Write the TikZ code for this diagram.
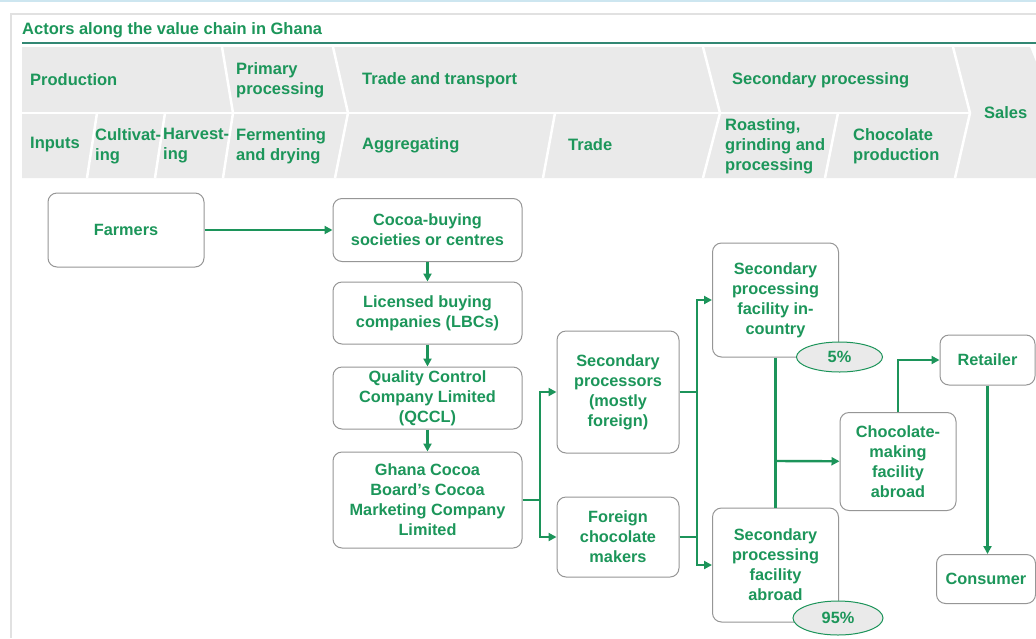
\documentclass[tikz,border=0pt]{standalone}
\usepackage{fontspec}
\setmainfont{Liberation Sans}
\usetikzlibrary{arrows.meta,shapes.geometric,positioning}
\definecolor{txg}{RGB}{28,150,90}
\definecolor{lng}{RGB}{28,148,90}
\definecolor{bxg}{RGB}{150,150,150}
\definecolor{bandg}{RGB}{234,234,234}
\definecolor{ttl}{RGB}{50,135,115}
\definecolor{frg}{RGB}{225,225,225}
\definecolor{skyb}{RGB}{205,230,240}
\newcommand{\bxfont}{\fontsize{16.3}{20}\selectfont\bfseries}
\newcommand{\hdfont}{\fontsize{16.5}{20}\selectfont\bfseries}

\begin{document}
\begin{tikzpicture}[x=1pt, y=-1pt, block/.style={rectangle, draw=bxg, line width=1pt, rounded corners=9pt, fill=white, align=center, text=txg, font=\bxfont, inner sep=2pt}, hdr/.style={anchor=west, align=left, text=txg, font=\hdfont, inner sep=0pt}, pct/.style={ellipse, draw=lng, line width=1pt, fill=bandg, text=txg, font=\bxfont, inner sep=0pt}, arr/.style={-{Triangle[length=8pt,width=8pt]}, draw=lng, line width=2.4pt}, ln/.style={draw=lng, line width=2.4pt}, sep/.style={draw=white, line width=2.5pt}]

    \useasboundingbox (0,0) rectangle (1036,638);
    \fill[white] (0,0) rectangle (1036,638);
    \draw[skyb, line width=1.5pt] (0,1) -- (1036,1);
    \draw[frg, line width=1.5pt] (11,638) -- (11,14) -- (1036,14);

    \node[anchor=west, inner sep=0pt, text=txg, font=\fontsize{16.5}{18}\selectfont\bfseries] (title) at (22,30) {Actors along the value chain in Ghana};
    \draw[ttl, line width=1.6pt] (22,43) -- (1036,43);

    \fill[bandg] (22,47) -- (1030,47) -- (1036,62) -- (1036,178) -- (22,178) -- cycle;
    \draw[sep] (22,113) -- (970,113);
    \draw[sep] (222,47) -- (233,113) -- (223,178);
    \draw[sep] (333,47) -- (348,113) -- (335,178);
    \draw[sep] (703,47) -- (720,113) -- (703,178);
    \draw[sep] (953,47) -- (970,113) -- (955,178);
    \draw[sep] (97,113) -- (87,178);
    \draw[sep] (165,113) -- (155,178);
    \draw[sep] (555,113) -- (543,178);
    \draw[sep] (838,113) -- (825,178);

    \node[hdr] (hprod) at (30,80) {Production};
    \node[hdr] (hprim) at (236,80) {Primary\\processing};
    \node[hdr] (htrade) at (362,80) {Trade and transport};
    \node[hdr] (hsec) at (732,80) {Secondary processing};
    \node[hdr] (hsales) at (984,113) {Sales};
    \node[hdr] (hinp) at (30,145) {Inputs};
    \node[hdr] (hcult) at (95,146) {Cultivat-\\ing};
    \node[hdr] (hharv) at (163,146) {Harvest-\\ing};
    \node[hdr] (hferm) at (236,146) {Fermenting\\and drying};
    \node[hdr] (hagg) at (362,145) {Aggregating};
    \node[hdr] (htr) at (568,145) {Trade};
    \node[hdr] (hroast) at (725,146) {Roasting,\\grinding and\\processing};
    \node[hdr] (hchoc) at (853,146) {Chocolate\\production};

    \node[block, minimum width=156, minimum height=74] (farm) at (126,230) {Farmers};
    \node[block, minimum width=189, minimum height=63] (cbs) at (427.5,230) {Cocoa-buying\\societies or centres};
    \node[block, minimum width=189, minimum height=62] (lbc) at (427.5,313) {Licensed buying\\companies (LBCs)};
    \node[block, minimum width=189, minimum height=62] (qccl) at (427.5,398) {Quality Control\\Company Limited\\(QCCL)};
    \node[block, minimum width=189, minimum height=96] (cmc) at (427.5,500) {Ghana Cocoa\\Board’s Cocoa\\Marketing Company\\Limited};
    \node[block, minimum width=122, minimum height=122] (spr) at (618,392) {Secondary\\processors\\(mostly\\foreign)};
    \node[block, minimum width=122, minimum height=80] (fcm) at (618,537) {Foreign\\chocolate\\makers};
    \node[block, minimum width=126, minimum height=114] (spin) at (775.5,300) {Secondary\\processing\\facility in-\\country};
    \node[block, minimum width=126, minimum height=114] (spab) at (775.5,565) {Secondary\\processing\\facility\\abroad};
    \node[block, minimum width=116, minimum height=98] (cmf) at (898,461.5) {Chocolate-\\making\\facility\\abroad};
    \node[block, minimum width=95, minimum height=50] (ret) at (987.5,360) {Retailer};
    \node[block, minimum width=99, minimum height=49] (con) at (986,579) {Consumer};

    \coordinate (j1) at (540,500);
    \coordinate (j2) at (697,392);
    \coordinate (j3) at (775.5,461);

    \draw[arr] (farm) -- (cbs);
    \draw[arr] (cbs) -- (lbc);
    \draw[arr] (lbc) -- (qccl);
    \draw[arr] (qccl) -- (cmc);
    \draw[ln] (cmc.east) -- (j1);
    \draw[arr] (j1) |- (spr.west);
    \draw[arr] (j1) |- (fcm.west);
    \draw[ln] (spr.east) -- (j2);
    \draw[ln] (fcm.east) -- (fcm.east -| j2);
    \draw[arr] (j2) |- (spin.west);
    \draw[arr] (j2) |- (spab.west);
    \draw[ln] (spin) -- (spab);
    \draw[arr] (j3) -- (cmf);
    \draw[arr] (cmf.north) |- (ret.west);
    \draw[arr] (ret.south) -- (ret.south |- con.north);

    \node[pct, minimum width=86, minimum height=30] (p5) at (839.5,357) {5\%};
    \node[pct, minimum width=90, minimum height=34] (p95) at (838,618) {95\%};

  \end{tikzpicture}
\end{document}
